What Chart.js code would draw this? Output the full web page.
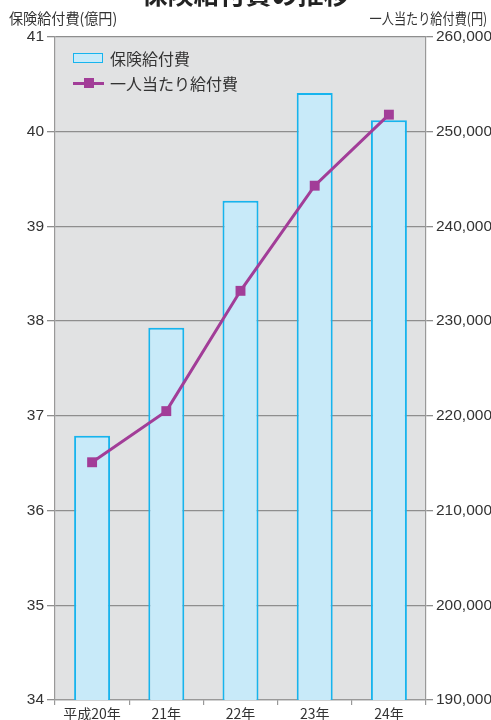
<!DOCTYPE html>
<html>
<head>
<meta charset="utf-8">
<script src="https://cdn.jsdelivr.net/npm/chart.js@4"></script>
<style>
  body { margin: 0; background: #fff; }
  #wrap { position: relative; width: 491px; height: 720px; overflow: hidden; font-family: 'Noto Sans CJK JP', sans-serif; color: #333; }
  #chart { position: absolute; left: 0; top: 0; }
  .lbl { position: absolute; white-space: nowrap; line-height: 1; }
  #title { left: 0; width: 491px; text-align: center; top: -20px; font-size: 26px; font-weight: bold; color: #222; }
  #leftTitle { left: 9px; top: 10px; font-size: 15px; transform: scaleX(0.94); transform-origin: left center; }
  #rightTitle { right: 4px; top: 10px; font-size: 15px; transform: scaleX(0.81); transform-origin: right center; }
  .legRow { position: absolute; left: 73px; height: 20px; }
  .legText { position: absolute; left: 37px; top: 1px; font-size: 16px; line-height: 18px; white-space: nowrap; }
</style>
</head>
<body>
<div id="wrap">
  <canvas id="chart" width="491" height="720"></canvas>
  <div id="title" class="lbl">保険給付費の推移</div>
  <div id="leftTitle" class="lbl">保険給付費(億円)</div>
  <div id="rightTitle" class="lbl">一人当たり給付費(円)</div>
  <div class="legRow" style="top:48px">
    <div style="position:absolute;left:0;top:5px;width:28px;height:8px;background:#c8eaf9;border:1.5px solid #16b4ee"></div>
    <div class="legText">保険給付費</div>
  </div>
  <div class="legRow" style="top:73px">
    <div style="position:absolute;left:0;top:8.5px;width:31px;height:3px;background:#a23d98"></div>
    <div style="position:absolute;left:11px;top:5px;width:10px;height:10px;background:#a23d98"></div>
    <div class="legText">一人当たり給付費</div>
  </div>
</div>
<script>
// values
const years = ['平成20年', '21年', '22年', '23年', '24年'];
const benefitTotal = [36.79, 37.93, 39.27, 40.41, 40.12];          // 億円
const benefitPerPerson = [215100, 220500, 233200, 244300, 251800]; // 円

const leftMin = 34, leftMax = 41;
const rightMin = 190000, rightMax = 260000;

const tickFont = { family: "'Liberation Sans', Arial, sans-serif", size: 15.5 };
const xFont = { family: "'Noto Sans CJK JP', sans-serif", size: 14 };

// gray plot background
const plotBg = {
  id: 'plotBg',
  beforeDraw(chart) {
    const { ctx, chartArea: a } = chart;
    ctx.save();
    ctx.fillStyle = '#e1e2e3';
    ctx.fillRect(a.left, a.top, a.right - a.left, a.bottom - a.top);
    ctx.restore();
  }
};

new Chart(document.getElementById('chart').getContext('2d'), {
  type: 'bar',
  data: {
    labels: years,
    datasets: [{
      type: 'line',
      label: '一人当たり給付費',
      data: benefitPerPerson,
      yAxisID: 'y1',
      borderColor: '#a23d98',
      backgroundColor: '#a23d98',
      borderWidth: 3,
      pointStyle: 'rect',
      pointRadius: 7,
      pointBorderWidth: 0,
      tension: 0,
      order: 1
    }, {
      label: '保険給付費',
      data: benefitTotal,
      yAxisID: 'y',
      backgroundColor: '#c8eaf9',
      borderColor: '#16b4ee',
      borderWidth: 2,
      categoryPercentage: 1,
      barPercentage: 0.485,
      order: 2
    }]
  },
  options: {
    responsive: false,
    animation: false,
    layout: { padding: { top: 37, left: 0, right: 0, bottom: 0 } },
    plugins: {
      legend: { display: false },
      tooltip: { enabled: false }
    },
    scales: {
      x: {
        grid: { offset: true, drawOnChartArea: false, tickLength: 5, color: '#999', lineWidth: 1.2 },
        border: { color: '#999', width: 1.2 },
        ticks: { font: xFont, color: '#333', padding: 0, maxRotation: 0 },
        afterFit(scale) { scale.height = 20; }
      },
      y: {
        position: 'left',
        min: leftMin,
        max: leftMax,
        ticks: { stepSize: 1, font: tickFont, color: '#333', padding: 3 },
        grid: { color: '#8e8e8e', lineWidth: 1.3, tickLength: 8 },
        border: { color: '#999', width: 1.2 },
        afterFit(scale) { scale.width = 55; }
      },
      y1: {
        position: 'right',
        min: rightMin,
        max: rightMax,
        ticks: {
          stepSize: 10000,
          font: tickFont,
          color: '#333',
          padding: 3,
          callback: v => v.toLocaleString('en-US')
        },
        grid: { drawOnChartArea: false, color: '#8e8e8e', lineWidth: 1.3, tickLength: 7 },
        border: { color: '#999', width: 1.2 },
        afterFit(scale) { scale.width = 65; }
      }
    }
  },
  plugins: [plotBg]
});
</script>
</body>
</html>
